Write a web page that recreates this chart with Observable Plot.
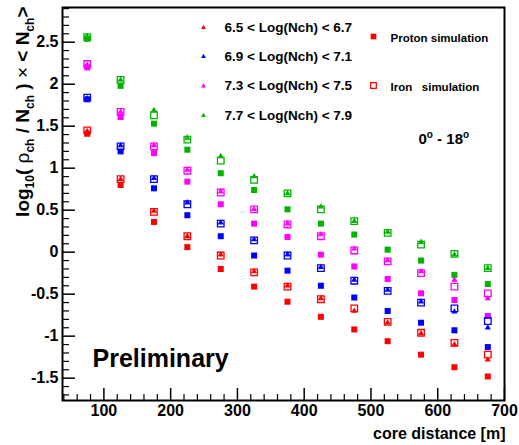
<!DOCTYPE html>
<html><head><meta charset="utf-8">
<script src="https://cdn.jsdelivr.net/npm/d3@7"></script>
<script src="https://cdn.jsdelivr.net/npm/@observablehq/plot@0.6"></script>
<style>body{margin:0;background:#fff} svg{display:block}</style>
</head><body><div id="chart"></div>
<script>
// core distance [m]
const distances = [75,125,175,225,275,325,375,425,475,525,575,625,675];
const binLabels = ["6.5 < Log(Nch) < 6.7","6.9 < Log(Nch) < 7.1","7.3 < Log(Nch) < 7.5","7.7 < Log(Nch) < 7.9"];
const binColors = ["#ff0000","#0000ff","#ff00ff","#00b400"];
// measured (triangles)
const data65 = [1.44,0.87,0.49,0.19,-0.03,-0.23,-0.40,-0.55,-0.70,-0.84,-0.97,-1.10,-1.28];
const data69 = [1.83,1.27,0.88,0.59,0.35,0.15,-0.03,-0.18,-0.33,-0.45,-0.59,-0.71,-0.90];
const data73 = [2.23,1.67,1.27,0.98,0.72,0.51,0.34,0.21,0.04,-0.10,-0.23,-0.33,-0.55];
const data77 = [2.57,2.05,1.69,1.36,1.14,0.90,0.70,0.54,0.37,0.24,0.12,-0.03,-0.19];
// proton simulation (filled squares)
const proton65 = [1.41,0.80,0.36,0.06,-0.20,-0.41,-0.59,-0.77,-0.92,-1.06,-1.22,-1.37,-1.48];
const proton69 = [1.82,1.20,0.76,0.44,0.19,-0.04,-0.22,-0.40,-0.54,-0.70,-0.84,-0.93,-1.13];
const proton73 = [2.20,1.61,1.18,0.84,0.57,0.34,0.18,-0.03,-0.17,-0.32,-0.49,-0.57,-0.76];
const proton77 = [2.54,1.98,1.53,1.22,0.94,0.74,0.51,0.34,0.21,0.03,-0.10,-0.27,-0.38];
// iron simulation (open squares)
const iron65 = [1.45,0.87,0.48,0.19,-0.04,-0.24,-0.41,-0.56,-0.67,-0.83,-0.96,-1.08,-1.22];
const iron69 = [1.84,1.26,0.87,0.57,0.34,0.14,-0.04,-0.19,-0.34,-0.46,-0.60,-0.67,-0.82];
const iron73 = [2.24,1.67,1.26,0.97,0.71,0.51,0.33,0.19,0.02,-0.11,-0.25,-0.41,-0.49];
const iron77 = [2.56,2.05,1.63,1.34,1.09,0.86,0.70,0.51,0.37,0.23,0.09,-0.02,-0.19];
// tick labels
const xTickLabels = [100,200,300,400,500,600,700];
const yTickLabels = [-1.5,-1,-0.5,0,0.5,1,1.5,2,2.5];
const xMinorTicks = d3.range(40, 701, 20).filter(v => v % 100 !== 0);
const yMinorTicks = d3.range(-17, 30, 1).map(v => v / 10).filter(v => Math.abs(v * 2 - Math.round(v * 2)) > 1e-6);

const W = 519, H = 445, mL = 62, mR = 15, mT = 7, mB = 45;
const xDomain = [38, 700], yDomain = [-1.766, 2.913];
const pxX = (W - mL - mR) / (xDomain[1] - xDomain[0]);
const pxY = (H - mT - mB) / (yDomain[1] - yDomain[0]);

const series = [
  [data65, proton65, iron65], [data69, proton69, iron69],
  [data73, proton73, iron73], [data77, proton77, iron77]
];
const rows = [];
series.forEach(([dat, pro, iro], b) => distances.forEach((d, i) => {
  rows.push({d, v: pro[i], bin: b, kind: "proton"});
  rows.push({d, v: iro[i], bin: b, kind: "iron"});
  rows.push({d, v: dat[i], bin: b, kind: "data"});
}));
const font = "'Liberation Sans', Arial, Helvetica, sans-serif";
const legendRows = binLabels.map((label, b) => ({label, b}));
const legendDy = [20, 49, 78.5, 108];

const chart = Plot.plot({
  width: W, height: H,
  marginLeft: mL, marginRight: mR, marginTop: mT, marginBottom: mB,
  style: {fontFamily: font, fontWeight: "bold", background: "#fff", color: "#000"},
  x: {domain: xDomain},
  y: {domain: yDomain},
  marks: [
    Plot.axisX({ticks: xTickLabels, tickSize: 0, tickPadding: 4, fontSize: 16, tickFormat: d => String(d), label: null}),
    Plot.axisY({ticks: yTickLabels, tickSize: 0, tickPadding: 4, fontSize: 16, tickFormat: d => String(d), label: null}),
    // inward ticks (ROOT style)
    Plot.ruleX(xTickLabels, {x: d => d, y1: yDomain[0], y2: yDomain[0] + 12 / pxY, stroke: "#000", strokeWidth: 1.5}),
    Plot.ruleX(xMinorTicks, {x: d => d, y1: yDomain[0], y2: yDomain[0] + 6 / pxY, stroke: "#000", strokeWidth: 1.2}),
    Plot.ruleY(yTickLabels, {y: d => d, x1: xDomain[0], x2: xDomain[0] + 13 / pxX, stroke: "#000", strokeWidth: 1.5}),
    Plot.ruleY(yMinorTicks, {y: d => d, x1: xDomain[0], x2: xDomain[0] + 7 / pxX, stroke: "#000", strokeWidth: 1.2}),
    Plot.frame({strokeWidth: 2}),
    Plot.dot(rows.filter(r => r.kind === "proton"), {x: "d", y: "v", symbol: "square", r: 3.4, fill: d => binColors[d.bin], stroke: "none"}),
    Plot.dot(rows.filter(r => r.kind === "iron"), {x: "d", y: "v", symbol: "square", r: 3.7, fill: "none", stroke: d => binColors[d.bin], strokeWidth: 1.3}),
    Plot.dot(rows.filter(r => r.kind === "data"), {x: "d", y: "v", symbol: "triangle", r: 2.3, fill: d => binColors[d.bin], stroke: "none"}),
    // legend
    ...legendRows.map((d, i) => Plot.dot([d], {frameAnchor: "top-left", dx: 141, dy: legendDy[i], symbol: "triangle", r: 1.8, fill: binColors[d.b], stroke: "none"})),
    ...legendRows.map((d, i) => Plot.text([d], {frameAnchor: "top-left", dx: 162, dy: legendDy[i], text: "label", textAnchor: "start", lineAnchor: "middle", fontSize: 13.5, fill: "#000"})),
    Plot.dot([0], {frameAnchor: "top-left", dx: 311, dy: 29, symbol: "square", r: 3.2, fill: "#ff0000", stroke: "none"}),
    Plot.dot([0], {frameAnchor: "top-left", dx: 311, dy: 78, symbol: "square", r: 3.2, fill: "none", stroke: "#ff0000", strokeWidth: 1.2}),
    Plot.text(["Proton simulation"], {frameAnchor: "top-left", dx: 328, dy: 31, textAnchor: "start", lineAnchor: "middle", fontSize: 11.5, fill: "#000"}),
    Plot.text(["Iron   simulation"], {frameAnchor: "top-left", dx: 328, dy: 80, textAnchor: "start", lineAnchor: "middle", fontSize: 11.5, fill: "#000"}),
    Plot.text(["ANGLE"], {frameAnchor: "top-left", dx: 356, dy: 132, textAnchor: "start", lineAnchor: "middle", fontSize: 15, fill: "#000"}),
    Plot.text(["Preliminary"], {frameAnchor: "bottom-left", dx: 30, dy: -42, textAnchor: "start", lineAnchor: "middle", fontSize: 25, fill: "#000"}),
    Plot.text(["core distance [m]"], {frameAnchor: "bottom-right", dx: 1, dy: 33, textAnchor: "end", lineAnchor: "middle", fontSize: 16, fill: "#000"}),
    Plot.text(["YTITLE"], {frameAnchor: "top-left", dx: -40, dy: -1, rotate: -90, textAnchor: "end", lineAnchor: "middle", fontSize: 19, fill: "#000"})
  ]
});
document.getElementById("chart").appendChild(chart);

// rich text (sub/superscripts)
const svg = d3.select(chart);
svg.selectAll("text").each(function() {
  const t = d3.select(this);
  const content = this.textContent;
  if (content === "YTITLE") {
    t.text("");
    const parts = [
      ["log", 0], ["10", 1], ["( ", -1], ["ρ", 0, "normal"], ["ch", 1], [" / N", -1], ["ch", 1], [" ) ", -1], ["×", 0, "normal"], [" < N", 0], ["ch", 1], [">", -1]
    ];
    parts.forEach(([s, shift, w]) => {
      const sp = t.append("tspan").text(s);
      if (shift === 1) sp.attr("dy", 5).attr("font-size", 12);
      if (shift === -1) sp.attr("dy", -5);
      if (w) sp.attr("font-weight", w);
    });
  } else if (content === "ANGLE") {
    t.text("");
    t.append("tspan").text("0");
    t.append("tspan").text("o").attr("dy", -6).attr("font-size", 10);
    t.append("tspan").text(" - 18").attr("dy", 6);
    t.append("tspan").text("o").attr("dy", -6).attr("font-size", 10);
  } else if (content === "Iron   simulation") {
    t.style("white-space", "pre");
  }
});
</script>
</body></html>
